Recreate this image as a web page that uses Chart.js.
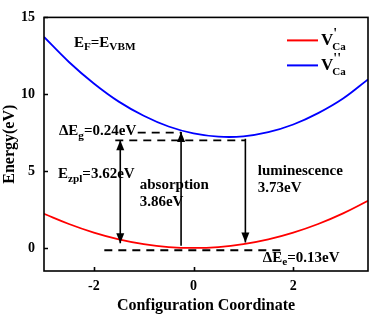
<!DOCTYPE html>
<html>
<head>
<meta charset="utf-8">
<script src="https://cdn.jsdelivr.net/npm/chart.js@4.4.0/dist/chart.umd.min.js"></script>
<style>
  html, body { margin: 0; padding: 0; background: #fff; }
  #wrap { width: 373px; height: 315px; position: relative; }
</style>
</head>
<body>
<div id="wrap"><canvas id="c"></canvas></div>
<script>
// axis ticks
const X_TICKS = [-2, 0, 2];
const Y_TICKS = [0, 5, 10, 15];

// configuration coordinate vs energy for the two charge states
const COORD = [-3, -2.5, -2, -1.5, -1, -0.5, 0, 0.5, 1, 1.5, 2, 2.5, 3, 3.5];
const E_V1 = [2.22, 1.56, 1.0, 0.56, 0.25, 0.06, 0, 0.06, 0.25, 0.56, 1.0, 1.56, 2.25, 3.07];        // V'Ca
const E_V2 = [13.73, 12.1, 10.7, 9.52, 8.6, 7.9, 7.45, 7.24, 7.26, 7.53, 8.03, 8.77, 9.72, 10.97];  // V''Ca

// transitions (x, y pairs)
const ZPL_X = [-1.47, -1.47], ZPL_Y = [0.3, 7.0];
const ABS_X = [-0.25, -0.25], ABS_Y = [0.15, 7.55];
const LUM_X = [1.04, 1.04], LUM_Y = [7.1, 0.35];
const DEG_X = [-1.12, -0.25], DEG_Y = [7.5, 7.5];
const LVL_X = [-1.57, 1.04], LVL_Y = [7.0, 7.0];
const DEE_X = [-1.79, 1.79], DEE_Y = [-0.15, -0.15];

const FONT = '"Liberation Serif", "Times New Roman", serif';

const pts = (xs, ys) => xs.map((x, i) => ({ x, y: ys[i] }));

// text labels: parts with optional subscript, anchored at data coords (left, middle)
const LABELS = [
  { x: -2.40, y: 13.35, parts: [{ t: 'E' }, { t: 'F', sub: true }, { t: '=E' }, { t: 'VBM', sub: true }] },
  { x: -2.70, y: 7.59, parts: [{ t: '\u0394E' }, { t: 'g', sub: true }, { t: '=0.24eV' }] },
  { x: -2.72, y: 4.80, parts: [{ t: 'E' }, { t: 'zpl', sub: true }, { t: '=3.62eV' }] },
  { x: -1.08, y: 4.10, parts: [{ t: 'absorption' }] },
  { x: -1.08, y: 2.96, parts: [{ t: '3.86eV' }] },
  { x: 1.29, y: 4.99, parts: [{ t: 'luminescence' }] },
  { x: 1.29, y: 3.91, parts: [{ t: '3.73eV' }] },
  { x: 1.39, y: -0.65, parts: [{ t: '\u0394E' }, { t: 'e', sub: true }, { t: '=0.13eV' }] },
];

const LEGEND = [
  { color: '#ff0000', sup: "'" },
  { color: '#0000ff', sup: "''" },
];

function drawRich(ctx, x, y, parts, size) {
  let cx = x;
  parts.forEach(p => {
    const s = p.sub ? size * 0.75 : size;
    ctx.font = `bold ${s}px ${FONT}`;
    ctx.fillText(p.t, cx, y + (p.sub ? size * 0.3 : 0));
    cx += ctx.measureText(p.t).width;
  });
}

const decor = {
  id: 'decor',
  afterDatasetsDraw(chart) {
    const { ctx, chartArea: a, scales: { x, y } } = chart;
    ctx.save();

    // arrow heads at line ends
    chart.data.datasets.forEach((ds, i) => {
      if (!ds.heads) return;
      const el = chart.getDatasetMeta(i).data;
      const ends = { start: [el[0], el[1]], end: [el[el.length - 1], el[el.length - 2]] };
      ds.heads.forEach(h => {
        const [tip, from] = ends[h];
        const ang = Math.atan2(tip.y - from.y, tip.x - from.x);
        const L = 10, W = 4;
        ctx.fillStyle = '#000';
        ctx.beginPath();
        ctx.moveTo(tip.x, tip.y);
        ctx.lineTo(tip.x - L * Math.cos(ang) + W * Math.sin(ang), tip.y - L * Math.sin(ang) - W * Math.cos(ang));
        ctx.lineTo(tip.x - L * Math.cos(ang) - W * Math.sin(ang), tip.y - L * Math.sin(ang) + W * Math.cos(ang));
        ctx.closePath();
        ctx.fill();
      });
    });

    // frame + inward ticks
    ctx.strokeStyle = '#000';
    ctx.lineWidth = 1.6;
    ctx.strokeRect(a.left, a.top, a.right - a.left, a.bottom - a.top);
    ctx.beginPath();
    X_TICKS.forEach(v => {
      const px = Math.round(x.getPixelForValue(v)) + 0.5;
      ctx.moveTo(px, a.bottom); ctx.lineTo(px, a.bottom - 4);
    });
    Y_TICKS.forEach(v => {
      const py = Math.round(y.getPixelForValue(v)) + 0.5;
      ctx.moveTo(a.left, py); ctx.lineTo(a.left + 4, py);
    });
    ctx.stroke();

    // labels
    ctx.fillStyle = '#000';
    ctx.textBaseline = 'middle';
    ctx.textAlign = 'left';
    LABELS.forEach(l => drawRich(ctx, x.getPixelForValue(l.x), y.getPixelForValue(l.y), l.parts, 15));

    // legend
    LEGEND.forEach((g, i) => {
      const ly = a.top + 23 + i * 25;
      ctx.strokeStyle = g.color;
      ctx.lineWidth = 2;
      ctx.beginPath();
      ctx.moveTo(a.right - 81, ly); ctx.lineTo(a.right - 50, ly);
      ctx.stroke();
      ctx.fillStyle = '#000';
      ctx.font = `bold 17px ${FONT}`;
      const vx = a.right - 47;
      ctx.fillText('V', vx, ly);
      const sx = vx + ctx.measureText('V').width - 1;
      ctx.font = `bold 14px ${FONT}`;
      ctx.fillText(g.sup, sx + 1, ly - 6);
      ctx.font = `bold 11px ${FONT}`;
      ctx.fillText('Ca', sx, ly + 7);
    });

    ctx.restore();
  }
};

const lineDs = (data, extra) => Object.assign({
  data, showLine: true, borderColor: '#000', borderWidth: 1.6,
  pointRadius: 0, pointHoverRadius: 0, fill: false,
}, extra);

new Chart(document.getElementById('c'), {
  type: 'scatter',
  data: {
    datasets: [
      lineDs(pts(COORD, E_V1), { label: "V'Ca", borderColor: '#ff0000', borderWidth: 1.8, tension: 0.4 }),
      lineDs(pts(COORD, E_V2), { label: "V''Ca", borderColor: '#0000ff', borderWidth: 1.8, tension: 0.4 }),
      lineDs(pts(DEG_X, DEG_Y), { borderDash: [8, 6], borderWidth: 1.8 }),
      lineDs(pts(LVL_X, LVL_Y), { borderDash: [8, 6], borderWidth: 1.8 }),
      lineDs(pts(DEE_X, DEE_Y), { borderDash: [8, 6], borderWidth: 1.8 }),
      lineDs(pts(ZPL_X, ZPL_Y), { heads: ['start', 'end'] }),
      lineDs(pts(ABS_X, ABS_Y), { heads: ['end'] }),
      lineDs(pts(LUM_X, LUM_Y), { heads: ['end'] }),
    ]
  },
  options: {
    responsive: true,
    maintainAspectRatio: false,
    animation: false,
    layout: { padding: { top: 10, right: 5, left: 0, bottom: 0 } },
    plugins: { legend: { display: false }, tooltip: { enabled: false } },
    scales: {
      x: {
        type: 'linear', min: -3, max: 3.5,
        afterBuildTicks: s => { s.ticks = X_TICKS.map(v => ({ value: v })); },
        afterFit: s => { s.height = 44; },
        grid: { display: false, drawTicks: false },
        border: { display: false },
        ticks: { color: '#000', padding: 7, font: { family: FONT, size: 14, weight: 'bold' } },
        title: { display: true, text: 'Configuration Coordinate', color: '#000', padding: { top: 1, bottom: 0 },
                 font: { family: FONT, size: 16, weight: 'bold' } },
      },
      y: {
        type: 'linear', min: -1.5, max: 15,
        afterBuildTicks: s => { s.ticks = Y_TICKS.map(v => ({ value: v })); },
        afterFit: s => { s.width = 44; },
        grid: { display: false, drawTicks: false },
        border: { display: false },
        ticks: { color: '#000', padding: 9, font: { family: FONT, size: 14, weight: 'bold' } },
        title: { display: true, text: 'Energy(eV)', color: '#000', padding: { top: 0, bottom: 1 },
                 font: { family: FONT, size: 16, weight: 'bold' } },
      }
    }
  },
  plugins: [decor]
});
</script>
</body>
</html>
